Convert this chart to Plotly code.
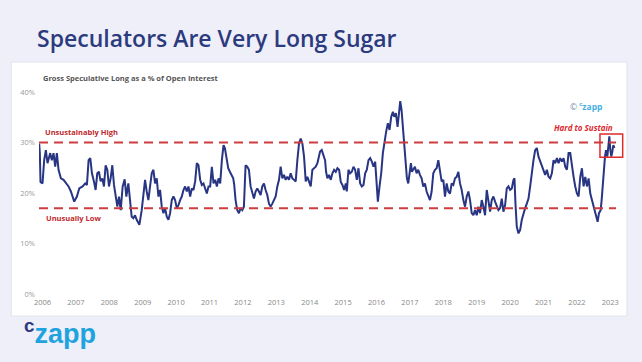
import plotly.graph_objects as go

# ---------------- data ----------------
years = [
    2005.90, 2005.92, 2005.94, 2006.00, 2006.05, 2006.10, 2006.15, 2006.23, 2006.28, 2006.33,
    2006.38, 2006.43, 2006.48, 2006.55, 2006.63, 2006.70, 2006.78, 2006.85, 2006.95, 2007.03,
    2007.10, 2007.20, 2007.28, 2007.33, 2007.38, 2007.43, 2007.48, 2007.54, 2007.59, 2007.64,
    2007.69, 2007.74, 2007.79, 2007.84, 2007.89, 2007.94, 2007.99, 2008.04, 2008.09, 2008.14,
    2008.19, 2008.24, 2008.29, 2008.34, 2008.40, 2008.46, 2008.51, 2008.57,
    2008.62, 2008.67, 2008.72, 2008.77, 2008.82, 2008.90, 2008.97, 2009.02, 2009.07, 2009.12,
    2009.17, 2009.22, 2009.27, 2009.32, 2009.37, 2009.42, 2009.47, 2009.52, 2009.57, 2009.62,
    2009.67, 2009.72, 2009.77, 2009.82, 2009.87, 2009.92, 2009.97, 2010.02, 2010.07, 2010.12,
    2010.17, 2010.22, 2010.27, 2010.32, 2010.37, 2010.42, 2010.47, 2010.52, 2010.57, 2010.62,
    2010.67, 2010.72, 2010.77, 2010.82, 2010.87, 2010.92, 2010.97, 2011.02, 2011.07, 2011.12,
    2011.17, 2011.22, 2011.27, 2011.32, 2011.37, 2011.42,
    2011.46, 2011.51, 2011.56, 2011.61, 2011.66, 2011.71, 2011.74, 2011.78, 2011.83, 2011.88,
    2011.93, 2011.98, 2012.03, 2012.08, 2012.13, 2012.18, 2012.23, 2012.28, 2012.33, 2012.38,
    2012.43, 2012.48, 2012.53, 2012.58, 2012.63, 2012.68, 2012.73, 2012.78, 2012.83, 2012.88,
    2012.93, 2012.98, 2013.03, 2013.08, 2013.13, 2013.18, 2013.23, 2013.28, 2013.33, 2013.38,
    2013.43, 2013.48, 2013.53, 2013.58, 2013.63, 2013.68, 2013.73, 2013.78, 2013.83, 2013.88,
    2013.93, 2013.98, 2014.03, 2014.08, 2014.13, 2014.18, 2014.23, 2014.28,
    2014.31, 2014.36, 2014.41, 2014.46, 2014.49, 2014.53, 2014.58, 2014.63, 2014.68, 2014.73,
    2014.78, 2014.83, 2014.88, 2014.93, 2014.98, 2015.03, 2015.08, 2015.11, 2015.16, 2015.21,
    2015.26, 2015.31, 2015.36, 2015.41, 2015.46, 2015.51, 2015.56, 2015.61, 2015.66, 2015.71,
    2015.76, 2015.81, 2015.86, 2015.91, 2015.96, 2016.01, 2016.04, 2016.09, 2016.14, 2016.19,
    2016.24, 2016.29, 2016.34, 2016.39, 2016.44, 2016.49, 2016.53, 2016.58, 2016.63, 2016.68,
    2016.71, 2016.75, 2016.79, 2016.83, 2016.87, 2016.91, 2016.95, 2016.99, 2017.03, 2017.06,
    2017.10,
    2017.15, 2017.20, 2017.25, 2017.30, 2017.35, 2017.40, 2017.45, 2017.50, 2017.55, 2017.60,
    2017.65, 2017.70, 2017.75, 2017.80, 2017.85, 2017.90, 2017.95, 2018.00, 2018.05, 2018.10,
    2018.15, 2018.20, 2018.25, 2018.30, 2018.35, 2018.40, 2018.45, 2018.50, 2018.55, 2018.60,
    2018.65, 2018.70, 2018.75, 2018.80, 2018.85, 2018.90, 2018.95, 2019.00, 2019.05, 2019.10,
    2019.15, 2019.20, 2019.25, 2019.30, 2019.35, 2019.40, 2019.45, 2019.50, 2019.55, 2019.60,
    2019.65, 2019.70, 2019.75, 2019.80, 2019.85, 2019.90, 2019.95,
    2020.00, 2020.05, 2020.10, 2020.13, 2020.16, 2020.20, 2020.25, 2020.30, 2020.35, 2020.40,
    2020.45, 2020.50, 2020.55, 2020.60, 2020.65, 2020.70, 2020.75, 2020.80, 2020.85, 2020.90,
    2020.95, 2021.00, 2021.05, 2021.10, 2021.15, 2021.20, 2021.25, 2021.30, 2021.35, 2021.40,
    2021.45, 2021.50, 2021.55, 2021.60, 2021.65, 2021.70, 2021.75, 2021.80, 2021.85, 2021.90,
    2021.95, 2022.00, 2022.05, 2022.10, 2022.15, 2022.20, 2022.25, 2022.30, 2022.35, 2022.40,
    2022.45, 2022.50, 2022.55, 2022.60, 2022.62, 2022.66, 2022.71, 2022.74, 2022.78, 2022.81,
    2022.84, 2022.87, 2022.91, 2022.94, 2022.97, 2023.00, 2023.03, 2023.06, 2023.09, 2023.12,
]
spec_long_pct = [
    29.8, 27.9, 22.2, 21.9, 26.5, 28.5, 25.9, 27.9, 26.5, 27.9,
    25.2, 27.9, 24.6, 22.9, 22.6, 21.9, 21.3, 20.3, 18.3, 19.3,
    20.9, 21.3, 21.9, 21.6, 26.5, 26.9, 23.9, 22.3, 20.6, 23.9,
    24.2, 22.3, 22.9, 21.3, 25.5, 24.6, 21.3, 22.9, 25.5, 21.6,
    19.6, 17.3, 19.3, 16.6, 21.3, 22.7, 19.3, 21.9,
    18.6, 15.3, 15.0, 15.6, 14.7, 13.7, 16.6, 19.3, 22.6, 20.3,
    18.6, 21.3, 23.9, 24.6, 21.9, 22.9, 19.3, 20.6, 17.3, 16.0,
    17.0, 15.3, 14.7, 16.0, 18.6, 19.3, 18.6, 17.0, 17.6, 18.6,
    19.3, 20.6, 21.3, 20.3, 21.3, 19.3, 20.9, 20.6, 22.3, 25.9,
    25.5, 22.6, 21.6, 21.9, 20.6, 19.9, 21.3, 21.3, 25.2, 21.9,
    22.6, 21.3, 22.9, 21.9, 26.5, 29.5,
    28.9, 27.2, 24.9, 24.2, 23.6, 22.9, 21.6, 18.6, 16.6, 16.0,
    17.0, 16.6, 17.3, 25.5, 25.2, 24.6, 21.3, 20.3, 18.9, 20.3,
    20.9, 20.3, 19.6, 21.3, 21.9, 20.6, 19.6, 17.9, 17.3, 17.9,
    18.6, 19.3, 21.3, 22.6, 25.2, 22.9, 23.6, 22.6, 23.2, 22.6,
    23.9, 22.9, 22.6, 22.3, 26.5, 29.8, 30.8, 29.8, 27.2, 22.3,
    23.2, 22.3, 21.3, 24.6, 24.9, 25.2, 25.9, 27.9,
    28.2, 28.5, 27.2, 26.5, 24.2, 22.9, 23.6, 22.6, 23.9, 24.6,
    24.2, 24.9, 24.6, 22.2, 21.6, 20.6, 21.9, 20.3, 24.6, 23.9,
    24.2, 25.2, 24.6, 22.6, 24.9, 21.9, 21.3, 21.6, 23.9, 24.6,
    26.5, 26.9, 26.2, 25.2, 26.2, 21.3, 18.3, 21.3, 23.9, 27.9,
    30.5, 32.2, 33.8, 32.5, 35.1, 36.1, 35.1, 35.8, 33.1, 37.1,
    38.2, 36.4, 32.5, 29.2, 25.9, 22.9, 21.9, 24.6, 25.9, 24.2,
    24.6,
    25.2, 23.9, 24.6, 23.6, 22.9, 21.3, 21.9, 20.3, 19.6, 18.6,
    20.3, 23.9, 24.6, 24.9, 26.5, 24.6, 22.3, 22.6, 19.3, 21.9,
    20.3, 19.9, 21.9, 21.6, 22.9, 23.2, 24.2, 21.9, 20.6, 18.6,
    17.3, 19.3, 20.3, 18.6, 16.0, 15.6, 16.6, 15.6, 17.3, 16.0,
    18.6, 17.3, 15.6, 20.6, 17.9, 16.3, 18.6, 19.3, 18.3, 17.3,
    16.6, 17.0, 18.9, 16.3, 17.6, 20.9, 21.3,
    20.6, 20.9, 22.6, 22.9, 17.9, 13.3, 12.0, 12.7, 14.7, 16.0,
    17.0, 17.9, 18.9, 21.3, 24.6, 26.5, 28.5, 28.9, 27.2, 26.2,
    25.5, 24.6, 23.6, 24.6, 23.2, 22.9, 23.9, 26.5, 25.9, 26.9,
    25.9, 26.9, 26.2, 26.9, 25.2, 24.6, 27.9, 27.9, 25.2, 23.2,
    21.3, 19.9, 19.3, 23.2, 24.9, 21.3, 23.2, 21.3, 22.9, 19.9,
    18.6, 17.3, 15.6, 14.7, 14.3, 16.0, 16.6, 18.6, 22.6, 25.2,
    27.2, 28.5, 27.2, 29.2, 31.2, 28.5, 27.2, 28.2, 29.5, 28.9,
]

HIGH_LEVEL = 30
LOW_LEVEL = 17
y_ticks = [0, 10, 20, 30, 40]
y_tick_labels = ["0%", "10%", "20%", "30%", "40%"]
x_ticks = list(range(2006, 2024))
x_tick_labels = [str(v) for v in x_ticks]
X_RANGE = [2005.895, 2023.17]
Y_RANGE = [0, 40]
box_years = [2022.69, 2023.37]
box_pct = [27.1, 31.7]

NAVY = "#283583"
RED = "#cd3d3d"
FONT = "Open Sans"


def xpaper(v):
    return (v - X_RANGE[0]) / (X_RANGE[1] - X_RANGE[0])


def ypaper(v):
    return (v - Y_RANGE[0]) / (Y_RANGE[1] - Y_RANGE[0])


fig = go.Figure()
fig.add_trace(go.Scatter(
    x=years, y=spec_long_pct, mode="lines",
    line=dict(color=NAVY, width=2), hoverinfo="skip", showlegend=False,
))

shapes = [
    # white card behind chart
    dict(type="rect", xref="paper", yref="paper", x0=-0.048, x1=1.019, y0=-0.109, y1=1.1485,
         fillcolor="white", line=dict(color="#e2e3ec", width=1), layer="below"),
    dict(type="line", xref="paper", yref="y", x0=0, x1=1, y0=HIGH_LEVEL, y1=HIGH_LEVEL,
         line=dict(color=RED, width=2, dash="9px,6px")),
    dict(type="line", xref="paper", yref="y", x0=0, x1=1, y0=LOW_LEVEL, y1=LOW_LEVEL,
         line=dict(color=RED, width=2, dash="9px,6px")),
    dict(type="rect", xref="paper", yref="paper",
         x0=xpaper(box_years[0]), x1=xpaper(box_years[1]),
         y0=ypaper(box_pct[0]), y1=ypaper(box_pct[1]),
         line=dict(color="#e02a2a", width=1.5), fillcolor="rgba(0,0,0,0)"),
]

annotations = [
    dict(text="Speculators Are Very Long Sugar", xref="paper", yref="paper",
         x=-0.0075, y=1.267, xanchor="left", yanchor="middle", showarrow=False,
         font=dict(family=FONT, size=23, color="#2c3a7e", weight=600)),
    dict(text="<b>Gross Speculative Long as a % of Open Interest</b>", xref="paper", yref="paper",
         x=0.004, y=1.069, xanchor="left", yanchor="middle", showarrow=False,
         font=dict(family=FONT, size=7.5, color="#555555")),
    dict(text="<b>Unsustainably High</b>", xref="x", yref="y", x=2006.0, y=32.1,
         xanchor="left", yanchor="middle", showarrow=False,
         font=dict(family=FONT, size=7.5, color="#c0282d")),
    dict(text="<b>Unusually Low</b>", xref="x", yref="y", x=2006.03, y=15.0,
         xanchor="left", yanchor="middle", showarrow=False,
         font=dict(family=FONT, size=7.5, color="#c0282d")),
    dict(text="<b><i>Hard to Sustain</i></b>", xref="x", yref="y", x=2023.15, y=33.0,
         xanchor="right", yanchor="middle", showarrow=False,
         font=dict(family=FONT, size=8, color="#e0282f")),
    dict(text='<span style="color:#7d8db0">©</span> <b><sup>c</sup>zapp</b>', xref="x", yref="y",
         x=2022.27, y=37.3, xanchor="center", yanchor="middle", showarrow=False,
         font=dict(family=FONT, size=8.5, color="#45aee3")),
    dict(text='<b><span style="color:#2c3a7e"><sup>c</sup></span>zapp</b>', xref="paper", yref="paper",
         x=-0.03, y=-0.19, xanchor="left", yanchor="middle", showarrow=False,
         font=dict(family="Liberation Sans", size=27, color="#1fa3de")),
]

fig.update_layout(
    width=642, height=362,
    margin=dict(l=39, r=26, t=92, b=68),
    paper_bgcolor="#eeeff9",
    plot_bgcolor="#f1f1f1",
    shapes=shapes,
    annotations=annotations,
    showlegend=False,
    xaxis=dict(range=X_RANGE, tickvals=x_ticks, ticktext=x_tick_labels,
               showgrid=False, zeroline=False, showline=False, ticks="",
               ticklabelstandoff=2,
               tickfont=dict(family=FONT, size=7.5, color="#888888")),
    yaxis=dict(range=Y_RANGE, tickvals=y_ticks, ticktext=y_tick_labels,
               showgrid=True, gridcolor="#ffffff", gridwidth=1, zeroline=False,
               showline=False, ticks="", ticklabelstandoff=3,
               tickfont=dict(family=FONT, size=7.5, color="#999999")),
)

fig.write_html(
    "out.html",
    config={"displayModeBar": False},
    post_script="document.body.style.margin='0';document.body.style.background='#eeeff9';",
)
